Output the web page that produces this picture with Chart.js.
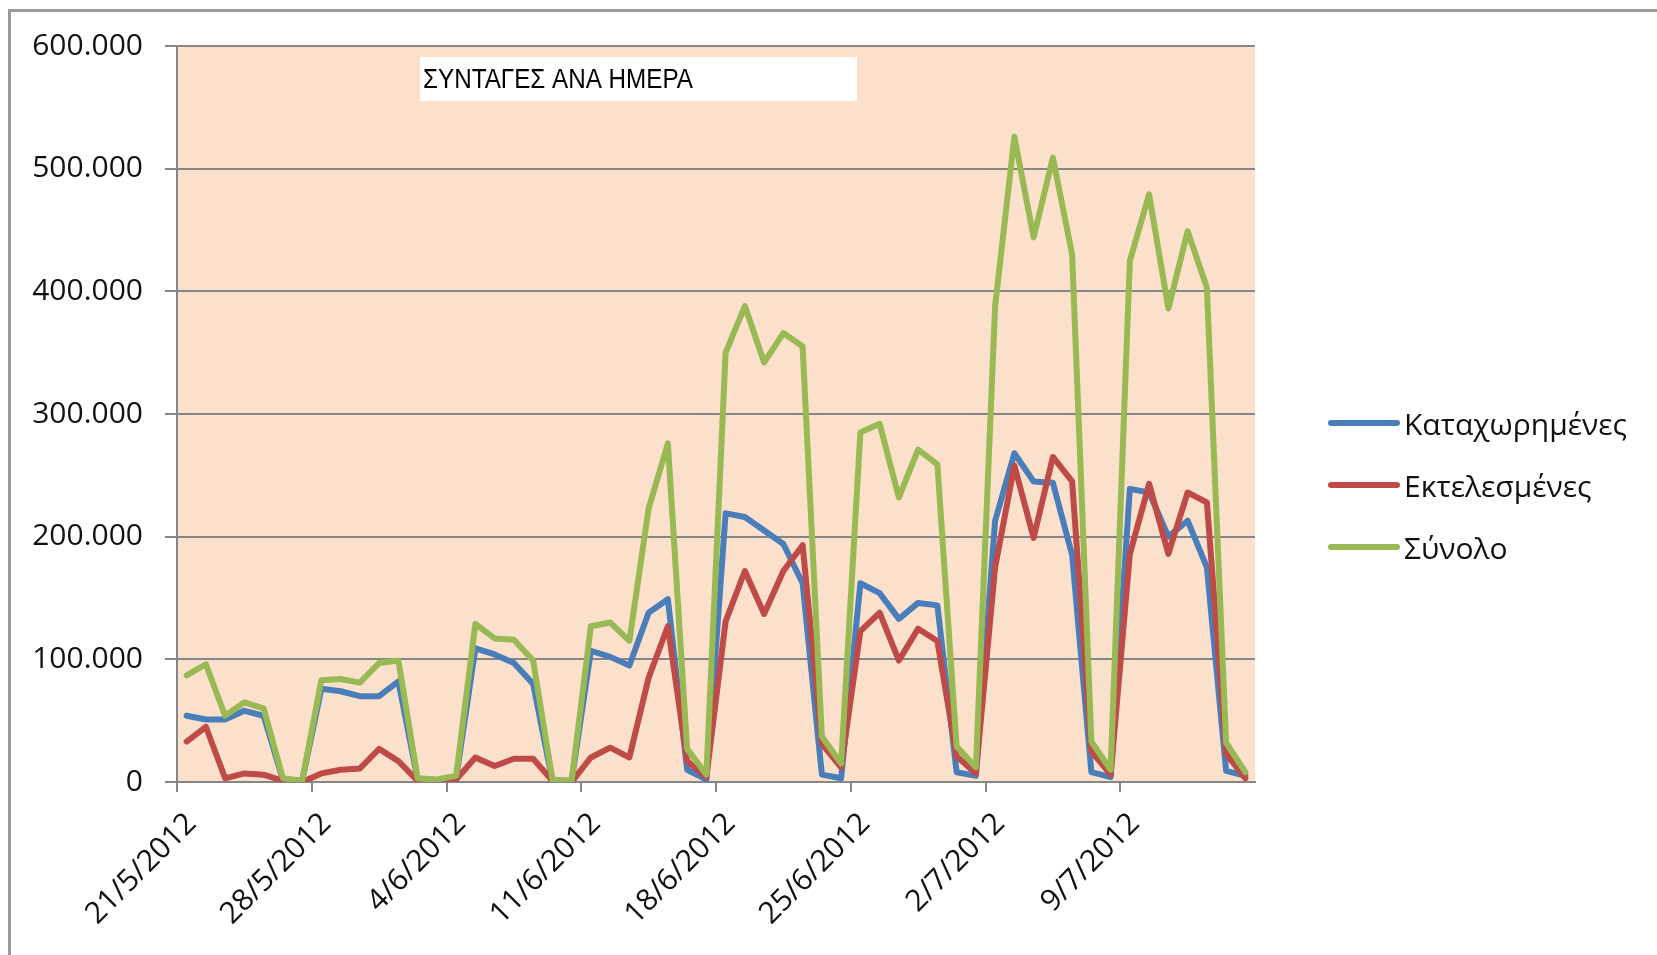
<!DOCTYPE html>
<html>
<head>
<meta charset="utf-8">
<title>ΣΥΝΤΑΓΕΣ ΑΝΑ ΗΜΕΡΑ</title>
<script src="https://cdn.jsdelivr.net/npm/chart.js@4.4.1/dist/chart.umd.min.js"></script>
<style>
  html, body { margin: 0; padding: 0; background: #fff; overflow: hidden; }
  #wrap { position: relative; width: 1657px; height: 955px; }
  #frame { position: absolute; left: 8px; top: 9px; width: 1700px; height: 1000px;
           border-left: 3px solid #9a9a9a; border-top: 3px solid #9a9a9a; }
  #chart { position: absolute; left: 0; top: 0; }
  #legend { position: absolute; left: 1328px; top: 392px; font-family: "Open Sans", sans-serif;
            font-size: 30px; color: #111; }
  #legend .item { display: flex; align-items: center; height: 62px; }
  #legend .swatch { width: 72px; height: 6px; border-radius: 3px; margin-right: 4px; }
</style>
</head>
<body>
<div id="wrap">
  <div id="frame"></div>
  <canvas id="chart" width="1657" height="955"></canvas>
  <div id="legend"></div>
</div>
<script>
'use strict';

/*********** DATA ***********/
var chartTitle = 'ΣΥΝΤΑΓΕΣ ΑΝΑ ΗΜΕΡΑ';
var days = [
  '21/5/2012', '22/5/2012', '23/5/2012', '24/5/2012', '25/5/2012', '26/5/2012', '27/5/2012',
  '28/5/2012', '29/5/2012', '30/5/2012', '31/5/2012', '1/6/2012', '2/6/2012', '3/6/2012',
  '4/6/2012', '5/6/2012', '6/6/2012', '7/6/2012', '8/6/2012', '9/6/2012', '10/6/2012',
  '11/6/2012', '12/6/2012', '13/6/2012', '14/6/2012', '15/6/2012', '16/6/2012', '17/6/2012',
  '18/6/2012', '19/6/2012', '20/6/2012', '21/6/2012', '22/6/2012', '23/6/2012', '24/6/2012',
  '25/6/2012', '26/6/2012', '27/6/2012', '28/6/2012', '29/6/2012', '30/6/2012', '1/7/2012',
  '2/7/2012', '3/7/2012', '4/7/2012', '5/7/2012', '6/7/2012', '7/7/2012', '8/7/2012',
  '9/7/2012', '10/7/2012', '11/7/2012', '12/7/2012', '13/7/2012', '14/7/2012', '15/7/2012'
];
var seriesNames = ['Καταχωρημένες', 'Εκτελεσμένες', 'Σύνολο'];
var registered = [
  54000, 51000, 51000, 58000, 54000, 2000, 1000,
  76000, 74000, 70000, 70000, 82000, 2000, 1000,
  3000, 109000, 104000, 97000, 80000, 1000, 1000,
  107000, 102000, 95000, 138000, 149000, 10000, 2000,
  219000, 216000, 205000, 194000, 162000, 6000, 3000,
  162000, 154000, 133000, 146000, 144000, 8000, 5000,
  213000, 268000, 245000, 244000, 185000, 8000, 4000,
  239000, 236000, 200000, 213000, 175000, 9000, 5000
];
var executed = [
  33000, 45000, 3000, 7000, 6000, 1000, 0,
  7000, 10000, 11000, 27000, 17000, 1000, 1000,
  2000, 20000, 13000, 19000, 19000, 1000, 0,
  20000, 28000, 20000, 85000, 127000, 17000, 4000,
  131000, 172000, 137000, 172000, 193000, 31000, 12000,
  123000, 138000, 99000, 125000, 115000, 21000, 7000,
  175000, 258000, 199000, 265000, 245000, 25000, 6000,
  186000, 243000, 186000, 236000, 228000, 23000, 3000
];
var total = [
  87000, 96000, 54000, 65000, 60000, 3000, 1000,
  83000, 84000, 81000, 97000, 99000, 3000, 2000,
  5000, 129000, 117000, 116000, 99000, 2000, 1000,
  127000, 130000, 115000, 223000, 276000, 27000, 6000,
  350000, 388000, 342000, 366000, 355000, 37000, 15000,
  285000, 292000, 232000, 271000, 259000, 29000, 12000,
  388000, 526000, 444000, 509000, 430000, 33000, 10000,
  425000, 479000, 386000, 449000, 403000, 32000, 8000
];
var yTicks = [0, 100000, 200000, 300000, 400000, 500000, 600000];
var labelEvery = 7;

/*********** STYLE ***********/
var colors = ['#4a7ebb', '#be4b48', '#98b954'];
var gridGray = '#868686';
var plotBg = '#fbe1cb';
var fontFamily = '"Open Sans", sans-serif';

/*********** PLUGINS ***********/
// peach plot area behind the grid
var plotBackground = {
  id: 'plotBackground',
  beforeDraw: function(chart) {
    var a = chart.chartArea;
    var ctx = chart.ctx;
    ctx.save();
    ctx.fillStyle = plotBg;
    ctx.fillRect(a.left, a.top, a.right - a.left, a.bottom - a.top);
    ctx.restore();
  }
};

// the white title box that sits inside the plot
var titleBox = {
  id: 'titleBox',
  beforeDatasetsDraw: function(chart) {
    var ctx = chart.ctx;
    ctx.save();
    ctx.fillStyle = '#ffffff';
    ctx.fillRect(420, 57, 437, 44);
    ctx.font = '28px "Liberation Sans Narrow", "Liberation Sans", sans-serif';
    ctx.fillStyle = '#000000';
    ctx.textBaseline = 'alphabetic';
    var w = ctx.measureText(chartTitle).width;
    ctx.translate(423, 87.5);
    ctx.scale(270 / w, 1);
    ctx.fillText(chartTitle, 0, 0);
    ctx.restore();
  }
};

function formatThousands(v) {
  return String(v).replace(/\B(?=(\d{3})+(?!\d))/g, '.');
}

/*********** CHART ***********/
var seriesData = [registered, executed, total];
var datasets = [];
for (var i = 0; i < seriesNames.length; i++) {
  datasets.push({
    label: seriesNames[i],
    data: seriesData[i],
    borderColor: colors[i],
    backgroundColor: colors[i],
    order: seriesNames.length - i
  });
}

var ctx = document.getElementById('chart').getContext('2d');
var chart = new Chart(ctx, {
  type: 'line',
  data: { labels: days, datasets: datasets },
  plugins: [plotBackground, titleBox],
  options: {
    responsive: false,
    animation: false,
    layout: { padding: { left: 0, top: 46, right: 402, bottom: 0 } },
    plugins: { legend: { display: false }, tooltip: { enabled: false } },
    elements: {
      point: { radius: 0 },
      line: { borderWidth: 6, tension: 0, borderJoinStyle: 'round', borderCapStyle: 'round' }
    },
    scales: {
      x: {
        offset: true,
        grid: {
          offset: true,
          drawOnChartArea: false,
          drawTicks: true,
          tickLength: 10,
          lineWidth: 2,
          color: function(c) { return c.index % labelEvery === 0 ? gridGray : 'rgba(0,0,0,0)'; },
          tickColor: function(c) { return c.index % labelEvery === 0 ? gridGray : 'rgba(0,0,0,0)'; }
        },
        border: { display: true, color: gridGray, width: 2 },
        ticks: {
          autoSkip: false,
          maxRotation: 45,
          minRotation: 45,
          padding: 14,
          labelOffset: 5,
          color: '#111',
          font: { family: fontFamily, size: 30 },
          callback: function(val, index) {
            return index % labelEvery === 0 ? this.getLabelForValue(val) : '';
          }
        },
        afterFit: function(scale) { scale.height = 173; }
      },
      y: {
        min: yTicks[0],
        max: yTicks[yTicks.length - 1],
        afterBuildTicks: function(scale) {
          scale.ticks = yTicks.map(function(v) { return { value: v }; });
        },
        grid: { color: gridGray, lineWidth: 2, tickLength: 12 },
        border: { color: gridGray, width: 2 },
        ticks: {
          padding: 22,
          color: '#111',
          font: { family: fontFamily, size: 30 },
          callback: function(v) { return formatThousands(v); }
        },
        afterFit: function(scale) { scale.width = 177; }
      }
    }
  }
});

/*********** LEGEND ***********/
function renderLegend() {
  var box = document.getElementById('legend');
  for (var i = 0; i < chart.data.datasets.length; i++) {
    var ds = chart.data.datasets[i];
    var item = document.createElement('div');
    item.setAttribute('class', 'item');
    var swatch = document.createElement('span');
    swatch.setAttribute('class', 'swatch');
    swatch.style.background = ds.borderColor;
    var text = document.createElement('span');
    text.textContent = ds.label;
    item.append(swatch);
    item.append(text);
    box.append(item);
  }
}
renderLegend();
</script>
</body>
</html>
